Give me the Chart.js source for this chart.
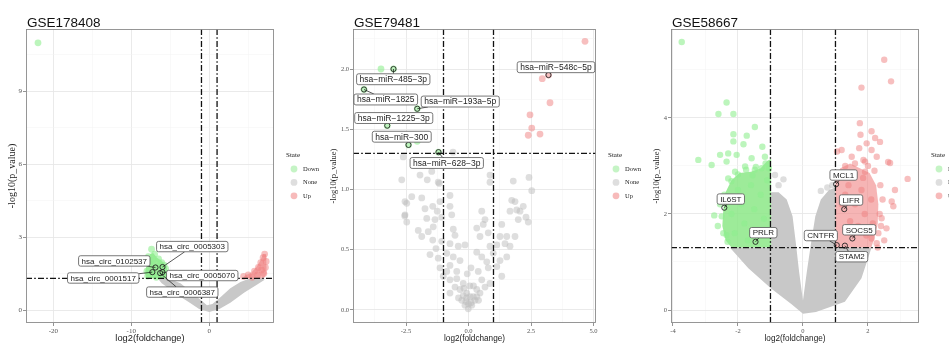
<!DOCTYPE html>
<html>
<head>
<meta charset="utf-8">
<title>Volcano plots</title>
<script src="https://cdn.jsdelivr.net/npm/chart.js@4.4.1/dist/chart.umd.min.js"></script>
<style>
  html, body { margin: 0; padding: 0; background: #fff; }
  body { position: relative; width: 949px; height: 344px; overflow: hidden; }
  canvas { position: absolute; top: 0; }
</style>
</head>
<body>
<canvas id="gse178408" width="325" height="344" style="left:0px"></canvas>
<canvas id="gse79481" width="320" height="344" style="left:325px"></canvas>
<canvas id="gse58667" width="304" height="344" style="left:645px"></canvas>
<script>
// ===== DATA =====
const titles = ['GSE178408', 'GSE79481', 'GSE58667'];
const states = ['Down', 'None', 'Up'];
const fcCut = 1, pCut = 1.3;
const xTitle = 'log2(foldchange)', yTitle = '-log10(p_value)';

// GSE178408
const x1Range = [-23.5, 8.3], y1Range = [-0.53, 11.55];
const x1Ticks = [-20, -10, 0], x1Labels = ['-20', '-10', '0'];
const y1Ticks = [0, 3, 6, 9], y1Labels = ['0', '3', '6', '9'];
const down1 = [[-21.96, 10.98], [-7.4, 2.5], [-7.8, 2.2], [-7.0, 2.3], [-6.5, 2.1], [-7.6, 1.9], [-8.0, 1.6], [-5.6, 1.7],
  [-5.4, 1.5], [-6.1, 1.95], [-7.9, 1.4], [-6.8, 1.35], [-7.2, 2.05], [-6.0, 1.45], [-5.8, 1.85], [-6.6, 1.8], [-7.3, 1.5]];
const up1 = [[7.1, 2.3], [6.9, 2.15], [6.6, 1.95], [7.2, 1.75], [5.8, 1.6], [5.0, 1.45], [4.4, 1.38], [6.2, 1.45],
  [7.0, 1.5], [6.7, 1.65], [5.5, 1.35], [7.3, 2.0], [6.3, 1.75]];
const none1 = [];
const downCloud1 = [[-8.1, 1.3], [-8.2, 1.6], [-8.0, 1.95], [-7.6, 2.3], [-7.2, 2.35], [-6.7, 2.15], [-6.0, 2.0],
  [-5.5, 1.8], [-5.3, 1.5], [-5.5, 1.3], [-8.1, 1.3]];
const upCloud1 = [[4.2, 1.3], [4.6, 1.42], [5.4, 1.55], [6.0, 1.75], [6.5, 2.0], [6.9, 2.3], [7.3, 2.3], [7.4, 1.9],
  [7.3, 1.5], [7.0, 1.3], [4.2, 1.3]];
const noneCloud1 = [[-6.4, 1.4], [-5.2, 1.3], [-3.7, 1.1], [-2.5, 0.8], [-1.2, 0.45], [-0.3, 0.2], [0.4, 0.25], [1.5, 0.55],
  [2.7, 0.9], [4, 1.15], [5, 1.28], [6.5, 1.35], [7.1, 1.25], [6, 1.02], [4.5, 0.72], [2.7, 0.3], [1.3, 0.05], [0, -0.08],
  [-1.3, 0.05], [-2.5, 0.3], [-3.7, 0.55], [-5, 0.85], [-6.1, 1.1], [-6.6, 1.3], [-6.4, 1.4]];
const genes1 = ['hsa_circ_0005303', 'hsa_circ_0102537', 'hsa_circ_0001517', 'hsa_circ_0005070', 'hsa_circ_0006387'];
const genePts1 = [[-6.0, 1.77], [-6.9, 1.75], [-7.3, 1.56], [-6.0, 1.56], [-6.3, 1.52]];
const geneLab1 = [[-2.18, 2.61], [-12.18, 2.02], [-13.6, 1.32], [-0.9, 1.42], [-3.46, 0.74]];

// GSE79481
const x2Range = [-4.62, 5.1], y2Range = [-0.108, 2.332];
const x2Ticks = [-2.5, 0, 2.5, 5], x2Labels = ['-2.5', '0.0', '2.5', '5.0'];
const y2Ticks = [0, 0.5, 1, 1.5, 2], y2Labels = ['0.0', '0.5', '1.0', '1.5', '2.0'];
const down2 = [[-3.5, 2.0], [-3.0, 2.0], [-2.05, 1.9], [-4.18, 1.83], [-2.05, 1.67], [-3.25, 1.53], [-2.4, 1.37],
  [-2.05, 1.4], [-1.2, 1.31]];
const up2 = [[4.66, 2.23], [3.2, 1.95], [2.95, 1.92], [3.26, 1.72], [2.46, 1.62], [2.53, 1.51], [2.39, 1.45], [2.86, 1.46]];
const none2 = [[-2.61, 1.27], [-0.62, 1.31], [-2.67, 1.08], [-1.94, 1.12], [-1.47, 1.15], [-1.65, 1.08], [-1.17, 1.05],
  [1.79, 1.07], [2.42, 1.10], [2.53, 0.99], [0.86, 1.12], [0.86, 1.06], [-2.27, 0.94], [-1.87, 0.93], [-0.74, 0.95],
  [-1.14, 0.90], [1.86, 0.90], [2.19, 0.86], [-2.54, 0.90], [-1.74, 0.84], [-1.43, 0.86], [-1.25, 0.82], [-0.74, 0.86],
  [-0.67, 0.79], [1.66, 0.82], [2.06, 0.82], [2.30, 0.77], [1.99, 0.75], [2.39, 0.73], [0.53, 0.82], [0.66, 0.75],
  [0.59, 0.71], [1.33, 0.71], [-2.54, 0.79], [-2.47, 0.73], [-1.67, 0.76], [-1.34, 0.75], [-1.07, 0.77], [-2.01, 0.66],
  [-1.61, 0.65], [-1.41, 0.69], [-0.61, 0.67], [-0.54, 0.62], [0.33, 0.68], [0.46, 0.61], [0.79, 0.64], [1.26, 0.61],
  [1.53, 0.61], [1.86, 0.61], [1.46, 0.55], [-1.87, 0.61], [-1.43, 0.58], [-1.30, 0.51], [-1.07, 0.57], [-0.74, 0.55],
  [-0.41, 0.53], [-0.14, 0.54], [0.86, 0.53], [1.13, 0.54], [1.66, 0.53], [-1.54, 0.46], [-1.21, 0.43], [-0.87, 0.47],
  [-0.61, 0.44], [-0.34, 0.41], [0.33, 0.48], [0.53, 0.44], [0.73, 0.40], [0.99, 0.47], [1.26, 0.41], [1.53, 0.44],
  [0.79, 0.35], [0.39, 0.32], [-0.74, 0.37], [-1.14, 0.35], [-0.87, 0.32], [-0.47, 0.32], [1.13, 0.36], [1.33, 0.28],
  [-1.01, 0.28], [-0.74, 0.25], [-0.47, 0.26], [-0.21, 0.22], [-0.34, 0.17], [-0.54, 0.19], [0.53, 0.25], [0.66, 0.19],
  [0.33, 0.17], [0.86, 0.22], [-0.74, 0.14], [-0.07, 0.14], [0.19, 0.11], [0.46, 0.14], [-0.27, 0.08], [-0.14, 0.04],
  [-0.01, 0.01], [0.13, 0.04], [0.26, 0.08], [-0.07, 0.10], [0.06, 0.11], [-0.21, 0.12], [0.33, 0.11], [-2.47, 0.885],
  [-2.55, 0.78], [-1.21, 1.06], [1.73, 0.91], [1.93, 0.83], [0, 0.05], [-0.1, 0.07], [0.1, 0.06], [-0.18, 0.18],
  [0.2, 0.2], [-0.4, 0.1], [0.4, 0.08], [0.05, 0.2], [-0.05, 0.3], [0.1, 0.35]];
const genes2 = ['hsa\u2212miR\u2212485\u22123p', 'hsa\u2212miR\u22121825', 'hsa\u2212miR\u2212193a\u22125p',
  'hsa\u2212miR\u22121225\u22123p', 'hsa\u2212miR\u2212300', 'hsa\u2212miR\u2212628\u22123p', 'hsa\u2212miR\u2212548c\u22125p'];
const genePts2 = [[-3.0, 2.0], [-4.18, 1.83], [-2.05, 1.67], [-3.25, 1.53], [-2.4, 1.37], [-1.2, 1.31], [3.2, 1.95]];
const geneLab2 = [[-3.01, 1.915], [-3.31, 1.747], [-0.33, 1.73], [-2.99, 1.593], [-2.67, 1.438], [-0.87, 1.22], [3.5, 2.015]];

// GSE58667
const x3Range = [-4.06, 3.57], y3Range = [-0.27, 5.85];
const x3Ticks = [-4, -2, 0, 2], x3Labels = ['-4', '-2', '0', '2'];
const y3Ticks = [0, 2, 4], y3Labels = ['0', '2', '4'];
const down3 = [[-3.73, 5.58], [-2.35, 4.32], [-2.6, 4.08], [-2.14, 4.08], [-1.48, 3.81], [-2.14, 3.66], [-1.73, 3.63],
  [-2.14, 3.51], [-1.83, 3.45], [-1.25, 3.40], [-2.55, 3.23], [-2.30, 3.26], [-2.04, 3.23], [-3.22, 3.125], [-2.81, 3.02],
  [-2.35, 3.09], [-1.58, 3.16], [-1.17, 3.19], [-1.78, 2.99], [-1.48, 2.92], [-1.27, 2.95], [-2.09, 2.88], [-2.73, 1.97],
  [-2.30, 2.74], [-2.35, 1.56], [-2.45, 1.6], [-2.5, 1.95], [-2.42, 2.4], [-2.2, 2.68], [-1.75, 2.92], [-1.15, 3.05],
  [-2.32, 1.42], [-2.55, 2.2], [-1.45, 2.98], [-2.0, 2.82], [-1.05, 2.95], [-2.62, 1.75],
  [-2.0, 2.5], [-1.6, 2.6], [-1.3, 2.4], [-1.9, 2.2], [-2.2, 2.0], [-1.5, 2.1], [-1.2, 1.9], [-1.8, 1.8], [-2.1, 1.6],
  [-1.4, 1.6], [-1.7, 1.45], [-1.1, 2.7], [-2.25, 2.35], [-1.55, 2.8]];
const up3 = [[2.50, 5.21], [2.71, 4.76], [1.8, 4.63], [1.75, 3.89], [2.11, 3.72], [1.77, 3.65], [2.22, 3.58], [1.96, 3.47],
  [2.37, 3.5], [1.19, 3.33], [1.73, 3.37], [2.11, 3.33], [1.5, 3.19], [2.27, 3.19], [1.91, 3.09], [2.62, 3.08], [2.68, 3.06],
  [3.22, 2.73], [2.83, 2.5], [2.73, 2.26], [2.78, 2.16], [2.42, 1.91], [2.57, 1.70], [2.32, 1.60], [2.11, 1.49], [2.27, 1.39],
  [1.05, 3.3], [1.91, 2.88], [1.86, 3.125], [2.38, 2.6], [2.45, 2.3], [2.36, 2.0], [1.3, 3.0], [1.6, 3.05], [2.2, 2.9],
  [2.5, 1.45], [2.4, 1.75], [1.1, 2.85], [2.0, 3.0], [2.3, 1.3],
  [1.4, 2.6], [1.8, 2.5], [2.1, 2.3], [1.6, 2.2], [1.3, 2.4], [1.9, 2.0], [2.15, 1.8], [1.7, 1.75], [1.95, 1.55],
  [1.45, 1.85], [1.85, 2.75], [1.2, 2.2]];
const none3 = [[-0.86, 2.81], [-0.6, 2.72], [0.75, 2.55], [0.55, 2.48], [-0.75, 2.6], [0.9, 2.6]];
const downCloud3 = [[-2.2, 1.3], [-2.38, 1.45], [-2.48, 1.75], [-2.45, 2.1], [-2.38, 2.45], [-2.2, 2.7], [-1.95, 2.85],
  [-1.6, 2.88], [-1.3, 2.95], [-1.1, 3.1], [-0.98, 3.15], [-0.98, 1.3], [-2.2, 1.3]];
const upCloud3 = [[1.0, 1.3], [1.0, 2.75], [1.15, 2.95], [1.45, 3.05], [1.75, 2.95], [2.05, 2.85], [2.25, 2.6], [2.32, 2.2],
  [2.3, 1.8], [2.2, 1.5], [2.1, 1.3], [1.0, 1.3]];
const noneCloud3 = [[0, -0.08], [-0.35, 0.12], [-0.98, 0.45], [-1.68, 0.87], [-2.25, 1.3], [-0.98, 1.3], [-0.98, 2.45],
  [-0.75, 2.45], [-0.5, 2.3], [-0.32, 1.95], [-0.22, 1.4], [-0.12, 0.8], [0, 0.2], [0.12, 0.8], [0.25, 1.4], [0.38, 1.95],
  [0.55, 2.3], [0.8, 2.5], [1.0, 2.55], [1.0, 1.3], [2.11, 1.3], [1.8, 0.66], [1.29, 0.17], [0.4, -0.04], [0, -0.08]];
const genes3 = ['MCL1', 'LIFR', 'SOCS5', 'CNTFR', 'STAM2', 'IL6ST', 'PRLR'];
const genePts3 = [[1.02, 2.62], [1.27, 2.1], [1.52, 1.49], [1.04, 1.35], [1.29, 1.34], [-2.42, 2.13], [-1.46, 1.42]];
const geneLab3 = [[1.25, 2.81], [1.48, 2.29], [1.73, 1.67], [0.55, 1.55], [1.5, 1.11], [-2.22, 2.31], [-1.22, 1.61]];

// ===== STYLE =====
const colDown = 'rgba(144,238,144,0.6)', colUp = 'rgba(240,128,128,0.5)', colNone = 'rgba(190,190,190,0.5)';
const fillDown = 'rgba(140,232,135,0.85)', fillUp = 'rgba(240,135,135,0.62)', fillNone = 'rgb(200,200,200)';
const legendCols = ['rgba(150,235,150,0.55)', 'rgba(200,200,200,0.6)', 'rgba(240,130,130,0.55)'];
Chart.defaults.font.family = '"Liberation Sans", Arial, sans-serif';

const pts = a => a.map(([x, y]) => ({ x, y }));

function minorTicks(major, range) {
  const step = major[1] - major[0], out = [];
  for (let v = major[0] - step / 2; v < range[1]; v += step) if (v > range[0]) out.push(+v.toFixed(6));
  return out;
}

function axis(range, major, labels, isX, size, st) {
  const minor = minorTicks(major, range);
  const isMajor = c => c.tick && major.includes(c.tick.value);
  return {
    type: 'linear', min: range[0], max: range[1],
    afterBuildTicks: s => { s.ticks = major.concat(minor).sort((a, b) => a - b).map(value => ({ value })); },
    afterFit: s => { if (isX) s.height = size; else s.width = size; },
    ticks: {
      autoSkip: false, maxRotation: 0, padding: 1, color: '#555',
      font: { family: '"Liberation Serif", serif', size: st.tick },
      callback: v => major.includes(v) ? labels[major.indexOf(v)] : ''
    },
    grid: {
      color: c => isMajor(c) ? '#e8e8e8' : '#f3f3f3',
      lineWidth: c => isMajor(c) ? 0.9 : 0.5,
      tickColor: c => isMajor(c) ? '#666' : 'rgba(0,0,0,0)',
      tickLength: 3, tickWidth: 0.7
    },
    border: { display: false },
    title: isX
      ? { display: true, text: xTitle, color: '#222', padding: 0, font: { size: st.xTitle } }
      : { display: true, text: yTitle, color: '#222', padding: { top: st.yPad, bottom: 0 },
          font: { family: '"Liberation Serif", serif', size: st.yTitle } }
  };
}

function cloud(data, color, order) {
  return { data: pts(data), showLine: true, fill: 'shape', backgroundColor: color, borderColor: 'rgba(0,0,0,0)',
    borderWidth: 0, pointRadius: 0, tension: 0, order };
}
function dots(data, color, r, order) {
  return { data: pts(data), backgroundColor: color, borderColor: 'rgba(0,0,0,0)', borderWidth: 0, pointRadius: r, order };
}
function guide(data) {
  return { data: pts(data), showLine: true, borderColor: '#111', borderWidth: 1.3, borderDash: [6, 2.2, 1.6, 2.2],
    pointRadius: 0, fill: false, order: 0 };
}

// panel frame, gene labels, title and legend
const decor = {
  id: 'decor',
  afterDatasetsDraw(chart, args, o) {
    const { ctx, chartArea: a, scales: { x, y } } = chart;
    ctx.save();
    ctx.strokeStyle = '#8c8c8c'; ctx.lineWidth = 0.9;
    ctx.strokeRect(a.left + 0.5, a.top + 0.5, a.width - 1, a.height - 1);
    ctx.font = o.labelFont + 'px "Liberation Sans", Arial, sans-serif';
    ctx.textAlign = 'center'; ctx.textBaseline = 'middle';
    o.genes.forEach((g, i) => {
      const px = x.getPixelForValue(o.points[i][0]), py = y.getPixelForValue(o.points[i][1]);
      const cx = x.getPixelForValue(o.labels[i][0]), cy = y.getPixelForValue(o.labels[i][1]);
      const w = ctx.measureText(g).width + 6, h = o.labelFont + 2.4;
      const dx = px - cx, dy = py - cy;
      const t = Math.min(Math.abs(w / 2 / (dx || 1e-9)), Math.abs(h / 2 / (dy || 1e-9)));
      if (t < 1) {
        const ex = cx + dx * t, ey = cy + dy * t;
        if (Math.hypot(px - ex, py - ey) > 4) {
          ctx.beginPath(); ctx.moveTo(ex, ey); ctx.lineTo(px, py);
          ctx.strokeStyle = '#111'; ctx.lineWidth = 0.7; ctx.stroke();
        }
      }
      ctx.beginPath(); ctx.roundRect(cx - w / 2, cy - h / 2, w, h, 2);
      ctx.fillStyle = '#fff'; ctx.fill();
      ctx.strokeStyle = '#555'; ctx.lineWidth = 0.8; ctx.stroke();
      ctx.fillStyle = '#222'; ctx.fillText(g, cx, cy + 0.5);
    });
    ctx.restore();
  },
  afterDraw(chart, args, o) {
    const { ctx, chartArea: a } = chart;
    ctx.save();
    ctx.fillStyle = '#111'; ctx.textAlign = 'left'; ctx.textBaseline = 'alphabetic';
    ctx.font = '13.5px "Liberation Sans", Arial, sans-serif';
    ctx.fillText(o.title, a.left + 1, 27);
    ctx.textBaseline = 'middle';
    ctx.font = '7px "Liberation Serif", serif';
    ctx.fillText('State', a.right + 12, 155);
    states.forEach((s, i) => {
      const yy = 169 + i * 13.4;
      ctx.beginPath(); ctx.arc(a.right + 20, yy, 3.4, 0, Math.PI * 2);
      ctx.fillStyle = legendCols[i]; ctx.fill();
      ctx.fillStyle = '#222'; ctx.font = '6.5px "Liberation Serif", serif';
      ctx.fillText(s, a.right + 29, yy);
    });
    ctx.restore();
  }
};

function makePanel(id, p) {
  const [xr, yr] = [p.xRange, p.yRange];
  return new Chart(document.getElementById(id), {
    type: 'scatter',
    data: {
      datasets: [
        guide([[xr[0], pCut], [xr[1], pCut]]),
        guide([[-fcCut, yr[0]], [-fcCut, yr[1]]]),
        guide([[fcCut, yr[0]], [fcCut, yr[1]]]),
        { data: pts(p.genePts), pointRadius: 2.6, backgroundColor: 'rgba(0,0,0,0)', borderColor: '#222', borderWidth: 0.9, order: 1 },
        dots(p.up, colUp, p.st.r, 2),
        dots(p.down, colDown, p.st.r, 3),
        cloud(p.upCloud, fillUp, 4),
        cloud(p.downCloud, fillDown, 5),
        dots(p.none, colNone, p.st.r, 6),
        cloud(p.noneCloud, fillNone, 7)
      ]
    },
    options: {
      responsive: false, animation: false, events: [],
      layout: { padding: { left: 2, right: p.padRight, top: 29, bottom: 0 } },
      scales: {
        x: axis(xr, p.xTicks, p.xLabels, true, 21, p.st),
        y: axis(yr, p.yTicks, p.yLabels, false, p.yWidth, p.st)
      },
      plugins: {
        legend: { display: false }, tooltip: { enabled: false },
        decor: { title: p.title, genes: p.genes, points: p.genePts, labels: p.geneLab, labelFont: p.st.label }
      }
    },
    plugins: [decor]
  });
}

makePanel('gse178408', {
  title: titles[0], xRange: x1Range, yRange: y1Range, xTicks: x1Ticks, xLabels: x1Labels, yTicks: y1Ticks, yLabels: y1Labels,
  down: down1, up: up1, none: none1, downCloud: downCloud1, upCloud: upCloud1, noneCloud: noneCloud1,
  genes: genes1, genePts: genePts1, geneLab: geneLab1, padRight: 51, yWidth: 24,
  st: { r: 3.4, tick: 7, xTitle: 9.3, yTitle: 10, yPad: 4.7, label: 8 }
});
makePanel('gse79481', {
  title: titles[1], xRange: x2Range, yRange: y2Range, xTicks: x2Ticks, xLabels: x2Labels, yTicks: y2Ticks, yLabels: y2Labels,
  down: down2, up: up2, none: none2, downCloud: [], upCloud: [], noneCloud: [],
  genes: genes2, genePts: genePts2, geneLab: geneLab2, padRight: 49, yWidth: 26,
  st: { r: 3.4, tick: 6.5, xTitle: 8.2, yTitle: 8.5, yPad: 1.2, label: 8.5 }
});
makePanel('gse58667', {
  title: titles[2], xRange: x3Range, yRange: y3Range, xTicks: x3Ticks, xLabels: x3Labels, yTicks: y3Ticks, yLabels: y3Labels,
  down: down3, up: up3, none: none3, downCloud: downCloud3, upCloud: upCloud3, noneCloud: noneCloud3,
  genes: genes3, genePts: genePts3, geneLab: geneLab3, padRight: 30, yWidth: 24,
  st: { r: 3.2, tick: 6.5, xTitle: 8.2, yTitle: 8.5, yPad: 4.6, label: 8 }
});
</script>
</body>
</html>
